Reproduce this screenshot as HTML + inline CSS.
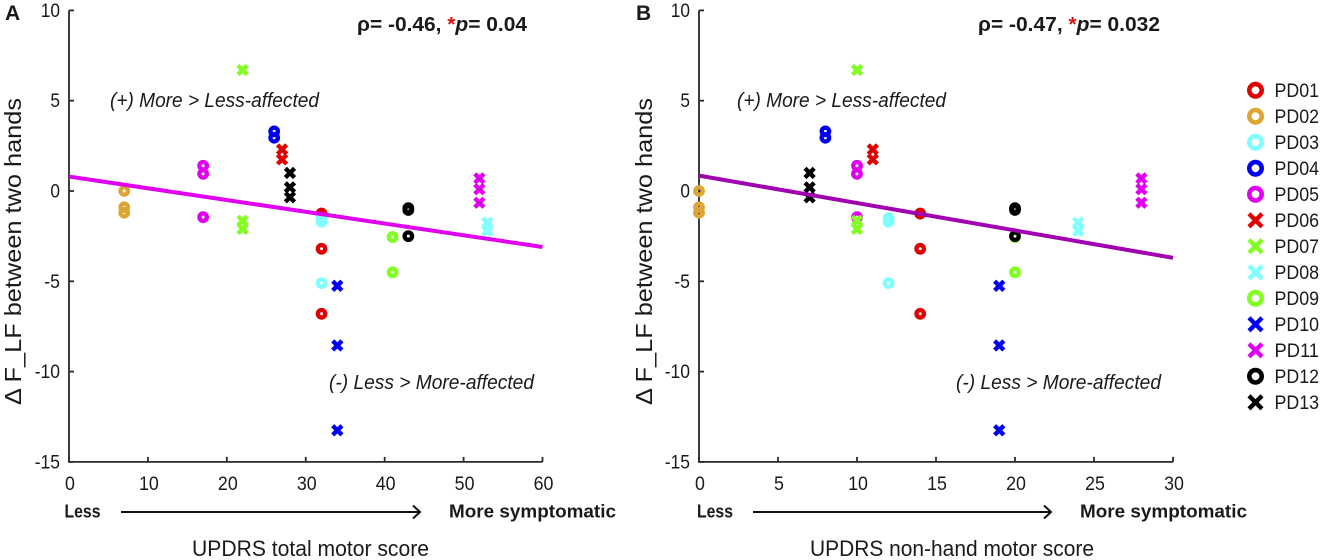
<!DOCTYPE html>
<html lang="en">
<head>
<meta charset="utf-8">
<title>Delta F_LF versus UPDRS motor scores</title>
<style>
html,body{margin:0;padding:0;background:#fff;width:1323px;height:560px;overflow:hidden}
svg{display:block;font-family:"Liberation Sans",sans-serif}
text{fill:#1a1a1a}
</style>
</head>
<body>
<svg id="chart" xmlns="http://www.w3.org/2000/svg" width="1323" height="560" viewBox="0 0 1323 560"></svg>
<script>
const participants = ['PD01','PD02','PD03','PD04','PD05','PD06','PD07','PD08','PD09','PD10','PD11','PD12','PD13'];
const totalMotorScore = [32,7,32,26,17,27,22,53,41,34,52,43,28];
const nonHandMotorScore = [14,0,12,8,10,11,10,24,20,19,28,20,7];
const deltaPD01 = [-1.25,-3.2,-6.8];
const deltaPD02 = [0,-0.9,-1.2];
const deltaPD03 = [-1.5,-1.7,-5.1];
const deltaPD04 = [3.3,2.95];
const deltaPD05 = [1.4,0.95,-1.45];
const deltaPD06 = [2.3,1.75];
const deltaPD07 = [6.7,-1.65,-2.1];
const deltaPD08 = [-1.75,-2.2];
const deltaPD09 = [-2.55,-4.5];
const deltaPD10 = [-5.25,-8.55,-13.25];
const deltaPD11 = [0.7,0.1,-0.65];
const deltaPD12 = [-0.95,-1.05,-2.5];
const deltaPD13 = [1,0.2,-0.35];
const deltaValues = [deltaPD01,deltaPD02,deltaPD03,deltaPD04,deltaPD05,deltaPD06,deltaPD07,deltaPD08,deltaPD09,deltaPD10,deltaPD11,deltaPD12,deltaPD13];
const markerKinds = ['o','o','o','o','o','x','x','x','o','x','x','o','x'];
const yTickLabels = [10,5,0,-5,-10,-15];
const xTickLabelsA = [0,10,20,30,40,50,60];
const xTickLabelsB = [0,5,10,15,20,25,30];
const fitScoresA = [0,60];
const fitDeltaA = [0.8,-3.1];
const fitScoresB = [0,30];
const fitDeltaB = [0.85,-3.7];

const seriesColors = ['#e00000','#dca534','#80ffff','#0000f0','#e000f0','#e00000','#80ff20','#80ffff','#80ff20','#0000f0','#e000f0','#000000','#000000'];
const NS = 'http://www.w3.org/2000/svg';
const svg = document.getElementById('chart');

function make(tag, attrs, parent) {
  const el = document.createElementNS(NS, tag);
  for (const k in attrs) el.setAttribute(k, attrs[k]);
  parent.appendChild(el);
  return el;
}
function label(parent, str, x, y, size, width, anchor, extra) {
  const t = make('text', Object.assign({x:x, y:y, 'font-size':size, 'text-anchor':anchor}, extra || {}), parent);
  t.textContent = str;
  if (width) { t.setAttribute('textLength', width); t.setAttribute('lengthAdjust', 'spacingAndGlyphs'); }
  return t;
}
function drawMarker(parent, kind, cx, cy, color, r, sw) {
  if (kind === 'o') {
    make('circle', {cx:cx, cy:cy, r:r, fill:'none', stroke:color, 'stroke-width':sw}, parent);
  } else {
    const d = r + 0.9;
    make('path', {d:'M'+(cx-d)+' '+(cy-d)+'L'+(cx+d)+' '+(cy+d)+'M'+(cx-d)+' '+(cy+d)+'L'+(cx+d)+' '+(cy-d), fill:'none', stroke:color, 'stroke-width':sw}, parent);
  }
}

function drawPanel(cfg) {
  const g = make('g', {}, svg);
  
  
  const sx = v => cfg.left + (v - cfg.xTicks[0]) / (cfg.xTicks[cfg.xTicks.length-1] - cfg.xTicks[0]) * cfg.plotW;
  const sy = v => 191 - v * 18.06;

  const axes = make('g', {stroke:'#2a2a2a', 'stroke-width':1.8, fill:'none'}, g);
  
  
  make('path', {d:'M'+sx(cfg.xTicks[0])+' '+sy(10)+'V'+sy(-15)+'H'+sx(cfg.xTicks[cfg.xTicks.length-1])}, axes);

  yTickLabels.forEach(v => {
    const tick = make('line', {x1:cfg.left, x2:cfg.left+5, y1:sy(v), y2:sy(v)}, axes);
    
    
    const s = String(v);
    const t = label(g, s, cfg.left-9, sy(v)+6.5, 19, s.length * 9.6 - (v < 0 ? 3.5 : 0), 'end');
    
    
  });
  cfg.xTicks.forEach(v => {
    const tick = make('line', {x1:sx(v), x2:sx(v), y1:sy(-15), y2:sy(-15)-5}, axes);
    
    
    const s = String(v);
    const t = label(g, s, sx(v)+1, 490, 19, s.length * 9.9, 'middle');
    
    
  });

  participants.forEach((p, i) => {
    const sg = make('g', {}, g);
    
    
    deltaValues[i].forEach(v => {
      drawMarker(sg, markerKinds[i], sx(cfg.scores[i]), sy(v), seriesColors[i], 3.7, 4.4);
    });
  });

  const fit = make('line', {x1:sx(cfg.fitX[0]), y1:sy(cfg.fitY[0]), x2:sx(cfg.fitX[1]), y2:sy(cfg.fitY[1]), stroke:cfg.fitColor, 'stroke-width':4}, g);
  
  

  const pl = make('text', {x:cfg.letterX, y:20, 'font-size':21, 'font-weight':'bold'}, g);
  pl.textContent = cfg.letter;
  
  

  const hd = make('text', {x:cfg.statX, y:31, 'font-size':20, 'font-weight':'bold', textLength:cfg.statW, lengthAdjust:'spacingAndGlyphs'}, g);
  
  
  hd.appendChild(document.createTextNode(cfg.rho + ', '));
  const star = make('tspan', {style:'fill:#e01010'}, hd);
  star.textContent = '*';
  const pv = make('tspan', {'font-style':'italic'}, hd);
  pv.textContent = 'p';
  hd.appendChild(document.createTextNode('= ' + cfg.pval));

  const a1 = label(g, '(+) More > Less-affected', cfg.moreX, 107, 20, 209, 'start', {'font-style':'italic'});
  
  
  const a2 = label(g, '(-) Less > More-affected', cfg.lessX, 389, 20, 205, 'start', {'font-style':'italic'});
  
  

  const less = label(g, 'Less', cfg.lessLabelX, 517.5, 18.5, 36, 'start', {'font-weight':'bold'});
  
  
  const arrow = make('path', {d:'M'+cfg.arrowX1+' 512H'+cfg.arrowX2+'M'+(cfg.arrowX2-7)+' 505.5L'+cfg.arrowX2+' 512L'+(cfg.arrowX2-7)+' 518.5', fill:'none', stroke:'#111', 'stroke-width':2}, g);
  
  
  const more = label(g, 'More symptomatic', cfg.moreLabelX, 517.5, 18.5, 167, 'start', {'font-weight':'bold'});
  
  

  const xt = label(g, cfg.xTitle, cfg.xTitleX, 556, 22.5, cfg.xTitleW, 'start');
  
  
  const yt = label(g, 'Δ F_LF between two hands', 0, 0, 23.5, 307, 'start', {transform:'translate('+cfg.yTitleX+' 405) rotate(-90)'});
  
  
}

drawPanel({name:'panel-a', letter:'A', letterX:5, left:69, plotW:473.5, xTicks:xTickLabelsA, scores:totalMotorScore,
  fitX:fitScoresA, fitY:fitDeltaA, fitColor:'#e000f0', statX:357, statW:170, rho:'ρ= -0.46', pval:'0.04',
  moreX:110, lessX:329, lessLabelX:64.5, arrowX1:121, arrowX2:420, moreLabelX:449,
  xTitle:'UPDRS total motor score', xTitleX:192, xTitleW:237, yTitleX:21});
drawPanel({name:'panel-b', letter:'B', letterX:636, left:699, plotW:474, xTicks:xTickLabelsB, scores:nonHandMotorScore,
  fitX:fitScoresB, fitY:fitDeltaB, fitColor:'#a000b0', statX:978, statW:182, rho:'ρ= -0.47', pval:'0.032',
  moreX:737, lessX:956, lessLabelX:697, arrowX1:753, arrowX2:1051, moreLabelX:1080,
  xTitle:'UPDRS non-hand motor score', xTitleX:810, xTitleW:284, yTitleX:652});

const legend = make('g', {}, svg);


participants.forEach((p, i) => {
  const row = make('g', {}, legend);
  
  
  const y = 90.3 + i * 26;
  if (markerKinds[i] === 'o') {
    drawMarker(row, 'o', 1255.5, y, seriesColors[i], 6.2, 4.6);
  } else {
    drawMarker(row, 'x', 1255.5, y, seriesColors[i], 5.6, 4.4);
  }
  label(row, p, 1274.5, y + 6.7, 19.5, 44.5, 'start');
});
</script>
</body>
</html>
